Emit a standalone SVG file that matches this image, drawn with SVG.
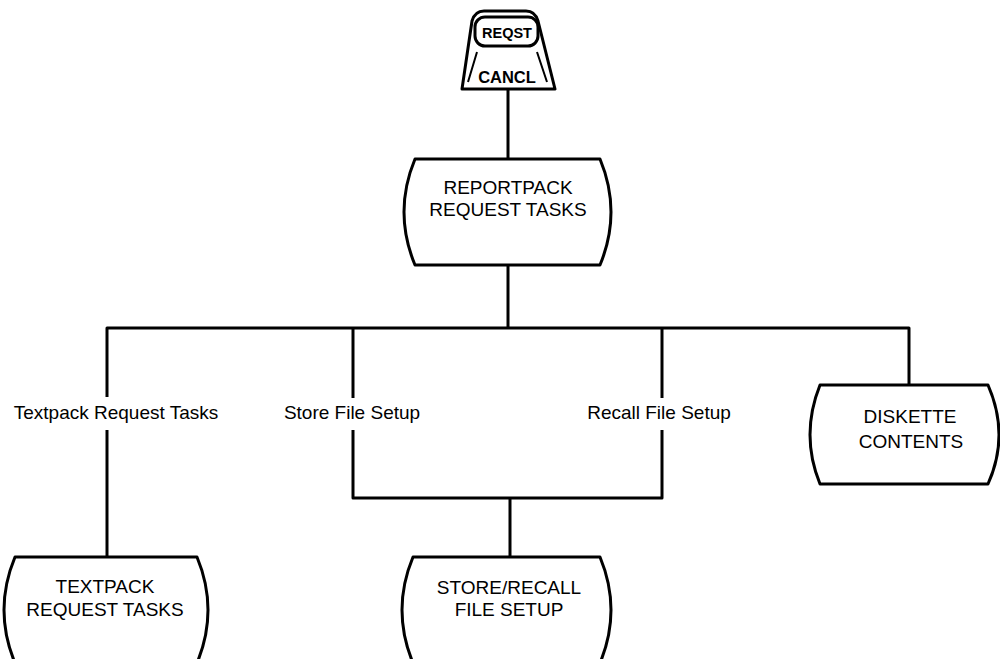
<svg xmlns="http://www.w3.org/2000/svg" width="1000" height="659" viewBox="0 0 1000 659">
<style>
.ln{fill:none;stroke:#000;stroke-width:3;stroke-linejoin:round;stroke-linecap:butt}
.nd{fill:#fff;stroke:#000;stroke-width:3;stroke-linejoin:round}
.t{font-family:"Liberation Sans",Arial,sans-serif;font-size:19px;fill:#000;text-anchor:middle}
.k{font-family:"Liberation Sans",Arial,sans-serif;font-weight:bold;fill:#000;text-anchor:middle}
</style>
<rect width="1000" height="659" fill="#fff"/>
<g id="connectors">
<path class="ln" d="M508,90 V159"/>
<path class="ln" d="M508,265 V328"/>
<path class="ln" d="M107,397 V328 H909 V385"/>
<path class="ln" d="M107,430 V557"/>
<path class="ln" d="M353,328 V398"/>
<path class="ln" d="M662,328 V398"/>
<path class="ln" d="M353,430 V498 H662 V430"/>
<path class="ln" d="M510,498 V557"/>
<text class="t" x="116" y="419">Textpack Request Tasks</text>
<text class="t" x="352" y="419">Store File Setup</text>
<text class="t" x="659" y="419">Recall File Setup</text>
</g>
<g id="key">
<path class="nd" d="M484,11 H526 Q535,11 538,21 L555,89 H462 L472,21 Q475,11 484,11 Z"/>
<rect x="475" y="17" width="63" height="29" rx="10" fill="#fff" stroke="#000" stroke-width="3"/>
<text class="k" x="507" y="38" font-size="14.5">REQST</text>
<path class="ln" style="stroke-width:2" d="M477,52 L468,82 M537,52 L547,82"/>
<text class="k" x="507" y="83" font-size="16.5">CANCL</text>
</g>
<g id="reportpack">
<path class="nd" d="M415,159 H600 Q622,212 600,265 H415 Q393,212 415,159 Z"/>
<text class="t" x="508" y="194">REPORTPACK</text>
<text class="t" x="508" y="216">REQUEST TASKS</text>
</g>
<g id="diskette">
<path class="nd" d="M820,385 H988 Q1010,435 988,484 H820 Q800,435 820,385 Z"/>
<text class="t" x="910" y="423">DISKETTE</text>
<text class="t" x="911" y="448">CONTENTS</text>
</g>
<g id="textpack">
<path class="nd" d="M15,557 H197 Q219,610 197,663 H15 Q-7,610 15,557 Z"/>
<text class="t" x="105" y="593">TEXTPACK</text>
<text class="t" x="105" y="616">REQUEST TASKS</text>
</g>
<g id="storerecall">
<path class="nd" d="M413,557 H600 Q622,610 600,663 H413 Q391,610 413,557 Z"/>
<text class="t" x="509" y="594">STORE/RECALL</text>
<text class="t" x="509" y="616">FILE SETUP</text>
</g>
</svg>
